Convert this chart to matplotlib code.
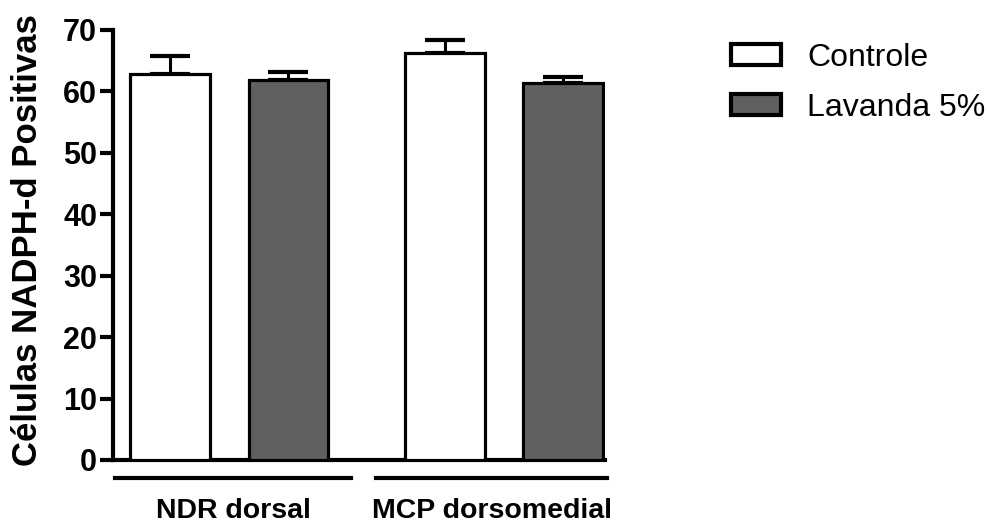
import numpy as np
import matplotlib.pyplot as plt
from matplotlib.patches import Patch

plt.rcParams['font.family'] = ['Liberation Sans', 'DejaVu Sans']

# dados: media e erro padrao (so barra superior)
groups = ["NDR dorsal", "MCP dorsomedial"]
series = ["Controle", "Lavanda 5%"]
controle_mean = [62.8, 66.3]
controle_sem = [3.0, 2.1]
lavanda_mean = [61.9, 61.3]
lavanda_sem = [1.2, 1.0]

yticks = [0, 10, 20, 30, 40, 50, 60, 70]

fill_colors = ["white", "#606060"]

fig = plt.figure(figsize=(9.88, 5.26), dpi=100)
ax = fig.add_axes([0.1144, 0.1255, 0.498, 0.8175])

# posicoes das barras (espaco extra entre grupos)
group_start = np.array([0.0, 2.33])
width = 0.67
means = [controle_mean, lavanda_mean]
sems = [controle_sem, lavanda_sem]

for k in range(2):
    xs = group_start + k
    ax.bar(xs, means[k], width=width, color=fill_colors[k], edgecolor="black",
           linewidth=2.3, zorder=3)
    ax.errorbar(xs, means[k], yerr=[np.zeros(2), sems[k]], fmt="none",
                ecolor="black", elinewidth=2.2, capsize=14.5, capthick=3.0,
                zorder=2)

ax.set_xlim(-0.483, 3.686)
ax.set_ylim(0, 70)
ax.set_yticks(yticks)
ax.set_xticks([])

for s in ["top", "right"]:
    ax.spines[s].set_visible(False)
for s in ["left", "bottom"]:
    ax.spines[s].set_linewidth(3.0)

ax.tick_params(axis="y", direction="out", length=9.5, width=3.0, pad=2,
               labelsize=22)
for lbl in ax.get_yticklabels():
    lbl.set_fontweight("bold")

fig.text(28 / 988, 1 - 240 / 526, "Células NADPH-d Positivas", rotation=90,
         ha="center", va="center", fontsize=25, fontweight="bold")

# linhas e rotulos dos grupos abaixo do eixo
trans = ax.get_xaxis_transform()
line_spans = [(-0.466, 1.534), (1.746, 3.703)]
for (x0, x1), name in zip(line_spans, groups):
    ax.plot([x0, x1], [-0.042, -0.042], color="black", lw=3.0,
            transform=trans, clip_on=False)
    ax.text((x0 + x1) / 2, -0.118, name, transform=trans, ha="center",
            va="center", fontsize=20.5, fontweight="bold")

handles = [Patch(facecolor=fill_colors[i], edgecolor="black", linewidth=3.0,
                 label=series[i]) for i in range(2)]
ax.legend(handles=handles, loc="upper left", bbox_to_anchor=(1.231, 1.0),
          frameon=False, fontsize=23, handlelength=1.56, handleheight=0.66,
          handletextpad=0.8, labelspacing=0.62, borderaxespad=0)

plt.savefig("out.png", dpi=100)
